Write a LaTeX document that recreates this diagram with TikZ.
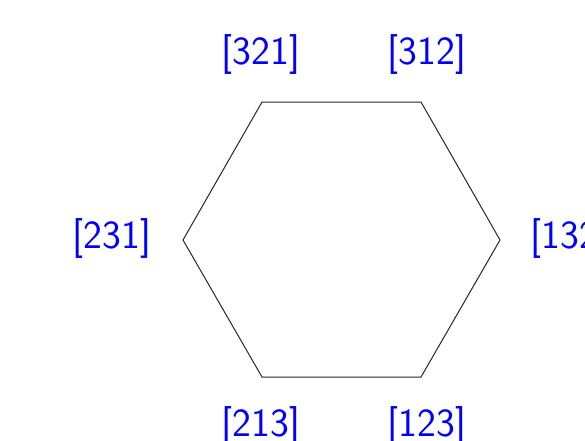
\documentclass[tikz,border=0pt]{standalone}
\usepackage{fontspec}
\begin{document}
\begin{tikzpicture}[x=1pt,y=-1pt,
  lbl/.style={text=blue,font=\sffamily\fontsize{40}{42}\selectfont,inner sep=0pt,anchor=center},
  edge/.style={draw=black!85,line width=1pt}]
\useasboundingbox (0,0) rectangle (585,440);
\coordinate (v321) at (262,102);
\coordinate (v312) at (421,102);
\coordinate (v132) at (500,240);
\coordinate (v123) at (421,377);
\coordinate (v213) at (262,377);
\coordinate (v231) at (183,240);
\draw[edge] (v321) -- (v312) -- (v132) -- (v123) -- (v213) -- (v231) -- cycle;
\node[lbl] (l321) at (261,54) {[321]};
\node[lbl] (l312) at (427,54) {[312]};
\node[lbl] (l132) at (570,238) {[132]};
\node[lbl] (l123) at (427,426) {[123]};
\node[lbl] (l213) at (261,426) {[213]};
\node[lbl] (l231) at (112,238) {[231]};
\end{tikzpicture}
\end{document}
